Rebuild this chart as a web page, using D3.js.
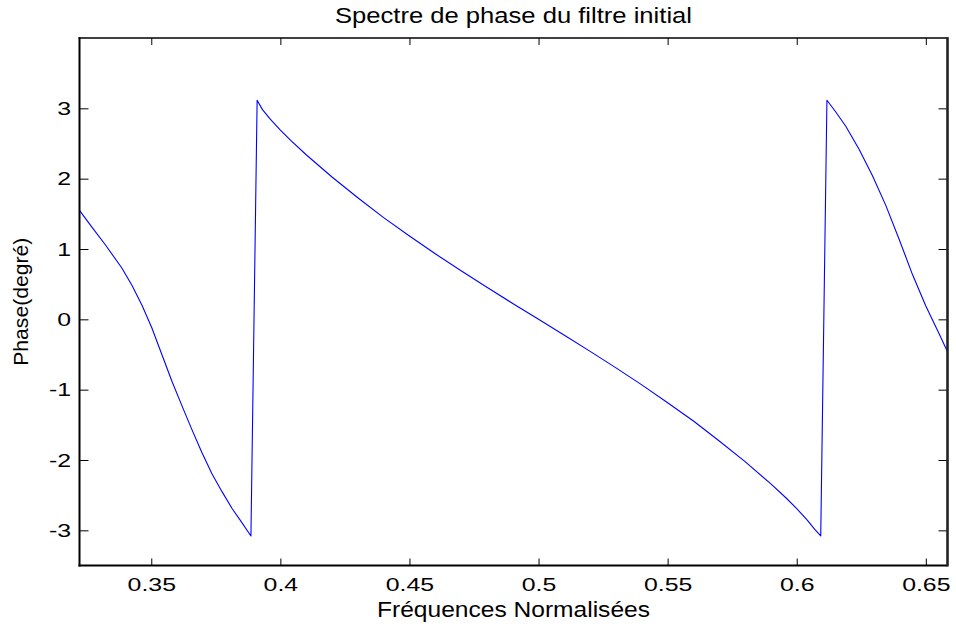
<!DOCTYPE html>
<html>
<head>
<meta charset="utf-8">
<script src="https://cdn.jsdelivr.net/npm/d3@7"></script>
<style>
  html, body { margin: 0; padding: 0; background: #fff; }
  svg { display: block; }
  text { font-family: Arial, "Liberation Sans", Helvetica, sans-serif; fill: #000; }
</style>
</head>
<body>
<svg id="chart" width="956" height="628"></svg>
<script>
// ---- data ----
const freq = [
  0.3222, 0.3270, 0.3322, 0.3386, 0.3425, 0.3464, 0.3502, 0.3541, 0.3580, 0.3619,
  0.3657, 0.3696, 0.3735, 0.3774, 0.3813, 0.3851, 0.3886,
  0.3910, 0.3930, 0.3960, 0.4000, 0.4040, 0.4100, 0.4200, 0.4300, 0.4400, 0.4500,
  0.4600, 0.4700, 0.4800, 0.4900, 0.5000, 0.5100, 0.5200, 0.5300, 0.5400, 0.5500,
  0.5600, 0.5700, 0.5800, 0.5900, 0.5960, 0.6000, 0.6040, 0.6070, 0.6093,
  0.6117, 0.6150, 0.6190, 0.6242, 0.6293, 0.6345, 0.6397, 0.6448, 0.6500, 0.6552, 0.6584
];
const phase = [
  1.550, 1.312, 1.060, 0.730, 0.485, 0.200, -0.120, -0.500, -0.880, -1.230,
  -1.565, -1.894, -2.195, -2.450, -2.690, -2.891, -3.080,
  3.115, 2.985, 2.850, 2.690, 2.544, 2.340, 2.024, 1.729, 1.446, 1.185,
  0.932, 0.690, 0.456, 0.226, 0.000, -0.226, -0.456, -0.690, -0.932, -1.185,
  -1.446, -1.729, -2.024, -2.340, -2.544, -2.690, -2.850, -2.985, -3.080,
  3.115, 2.955, 2.745, 2.415, 2.045, 1.620, 1.135, 0.640, 0.190, -0.210, -0.460
];
const xTicks = [0.35, 0.4, 0.45, 0.5, 0.55, 0.6, 0.65];
const xTickLabels = ["0.35", "0.4", "0.45", "0.5", "0.55", "0.6", "0.65"];
const yTicks = [-3, -2, -1, 0, 1, 2, 3];
const yTickLabels = ["-3", "-2", "-1", "0", "1", "2", "3"];
const xDomain = [0.3222, 0.6584];
const yDomain = [-3.5, 4];
const titleText = "Spectre de phase du filtre initial";
const xLabelText = "Fréquences Normalisées";
const yLabelText = "Phase(degré)";

// ---- layout ----
const L = 79.5, R = 947.5, T = 38, B = 565.5;
const svg = d3.select("#chart");
const x = d3.scaleLinear().domain(xDomain).range([L, R]);
const y = d3.scaleLinear().domain(yDomain).range([B, T]);

svg.append("rect").attr("x", L).attr("y", T).attr("width", R - L).attr("height", B - T).attr("fill", "#fff");

// curve
const line = d3.line().x((d, i) => x(freq[i])).y((d, i) => y(phase[i]));
svg.append("path")
  .datum(phase)
  .attr("d", line)
  .attr("fill", "none")
  .attr("stroke", "#0000ff")
  .attr("stroke-width", 1.1)
  .attr("stroke-linejoin", "round");

// axes (inward ticks) via d3 axis generators
const sx = 1.42; // horizontal stretch of tick label glyphs
const fmtX = d => xTickLabels[xTicks.indexOf(d)];
const fmtY = d => yTickLabels[yTicks.indexOf(d)];

function styleAxis(g) {
  g.select(".domain").remove();
  g.selectAll(".tick line").attr("stroke", "#000").attr("stroke-width", 1);
}

const gB = svg.append("g").attr("transform", `translate(0,${B})`)
  .call(d3.axisBottom(x).tickValues(xTicks).tickFormat(fmtX).tickSizeInner(-7).tickSizeOuter(0).tickPadding(0));
styleAxis(gB);
gB.selectAll(".tick text")
  .attr("y", 25.5).attr("dy", null)
  .attr("transform", `scale(${sx},1)`)
  .style("font-size", "17.5px").style("font-family", "Arial, 'Liberation Sans', sans-serif").attr("fill", "#000");

const gT = svg.append("g").attr("transform", `translate(0,${T})`)
  .call(d3.axisTop(x).tickValues(xTicks).tickFormat("").tickSizeInner(-7).tickSizeOuter(0));
styleAxis(gT);

const gL = svg.append("g").attr("transform", `translate(${L},0)`)
  .call(d3.axisLeft(y).tickValues(yTicks).tickFormat(fmtY).tickSizeInner(-9).tickSizeOuter(0).tickPadding(0));
styleAxis(gL);
gL.selectAll(".tick text")
  .attr("x", -8.5 / sx).attr("dy", null).attr("y", 6.3)
  .attr("transform", `scale(${sx},1)`)
  .attr("text-anchor", "end")
  .style("font-size", "17.5px").style("font-family", "Arial, 'Liberation Sans', sans-serif").attr("fill", "#000");

const gR = svg.append("g").attr("transform", `translate(${R},0)`)
  .call(d3.axisRight(y).tickValues(yTicks).tickFormat("").tickSizeInner(-9).tickSizeOuter(0));
styleAxis(gR);

// frame
svg.append("line").attr("x1", L - 1).attr("x2", R).attr("y1", T).attr("y2", T).attr("stroke", "#000").attr("stroke-width", 1.4);
svg.append("line").attr("x1", L - 1).attr("x2", R).attr("y1", B).attr("y2", B).attr("stroke", "#000").attr("stroke-width", 2);
svg.append("line").attr("x1", L).attr("x2", L).attr("y1", T - 0.7).attr("y2", B + 1).attr("stroke", "#000").attr("stroke-width", 2);
svg.append("line").attr("x1", R).attr("x2", R).attr("y1", T - 0.7).attr("y2", B + 1).attr("stroke", "#222").attr("stroke-width", 2.6);

// title & labels
const cx = (L + R) / 2;
svg.append("text").attr("x", cx).attr("y", 23.3).attr("text-anchor", "middle")
  .style("font-size", "22px").attr("textLength", 357).attr("lengthAdjust", "spacingAndGlyphs")
  .text(titleText);
svg.append("text").attr("x", cx).attr("y", 616.5).attr("text-anchor", "middle")
  .style("font-size", "22px").attr("textLength", 273).attr("lengthAdjust", "spacingAndGlyphs")
  .text(xLabelText);
svg.append("text")
  .attr("transform", `translate(28,${(T + B) / 2}) rotate(-90)`)
  .attr("text-anchor", "middle")
  .style("font-size", "20px").attr("textLength", 128).attr("lengthAdjust", "spacingAndGlyphs")
  .text(yLabelText);
</script>
</body>
</html>
